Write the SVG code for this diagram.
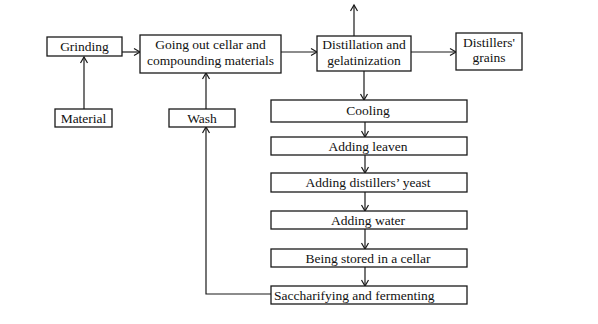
<svg xmlns="http://www.w3.org/2000/svg" width="598" height="324" viewBox="0 0 598 324">
<style>
.b{fill:#fff;stroke:#1a1a1a;stroke-width:1.3}
.t{font-family:"Liberation Serif","DejaVu Serif",serif;font-size:13.5px;fill:#111;text-anchor:middle}
.l{fill:none;stroke:#1a1a1a;stroke-width:1.2}
</style>
<defs>
<marker id="a" markerWidth="10" markerHeight="10" refX="8" refY="5" orient="auto" markerUnits="userSpaceOnUse">
<polyline points="2,1.5 8,5 2,8.5" fill="none" stroke="#1a1a1a" stroke-width="1.2"/>
</marker>
</defs>
<rect width="598" height="324" fill="#fff"/>
<g id="connectors">
<line class="l" x1="84" y1="109" x2="84" y2="57" marker-end="url(#a)"/>
<line class="l" x1="122" y1="52" x2="140" y2="52" marker-end="url(#a)"/>
<line class="l" x1="206" y1="109" x2="206" y2="73" marker-end="url(#a)"/>
<line class="l" x1="281" y1="52" x2="317" y2="52" marker-end="url(#a)"/>
<line class="l" x1="354" y1="36" x2="354" y2="5" marker-end="url(#a)"/>
<line class="l" x1="411" y1="52" x2="456" y2="52" marker-end="url(#a)"/>
<line class="l" x1="364" y1="71" x2="364" y2="100" marker-end="url(#a)"/>
<line class="l" x1="365" y1="122" x2="365" y2="137" marker-end="url(#a)"/>
<line class="l" x1="365" y1="155" x2="365" y2="173" marker-end="url(#a)"/>
<line class="l" x1="365" y1="192" x2="365" y2="211" marker-end="url(#a)"/>
<line class="l" x1="365" y1="229" x2="365" y2="249" marker-end="url(#a)"/>
<line class="l" x1="365" y1="267" x2="365" y2="286" marker-end="url(#a)"/>
<polyline class="l" points="271,294 206,294 206,127" marker-end="url(#a)"/>
</g>
<g id="grinding"><rect class="b" x="47" y="37" width="75" height="19"/><text class="t" x="84.5" y="51">Grinding</text></g>
<g id="going-out"><rect class="b" x="140" y="35" width="141" height="38"/><text class="t" x="210.5" y="49">Going out cellar and</text><text class="t" x="210.5" y="65">compounding materials</text></g>
<g id="material"><rect class="b" x="55" y="109" width="57" height="18"/><text class="t" x="83.5" y="122.5">Material</text></g>
<g id="wash"><rect class="b" x="169" y="109" width="66" height="18"/><text class="t" x="202" y="122.5">Wash</text></g>
<g id="distillation"><rect class="b" x="317" y="36" width="94" height="35"/><text class="t" x="364" y="49">Distillation and</text><text class="t" x="364" y="65">gelatinization</text></g>
<g id="grains"><rect class="b" x="456" y="33" width="66" height="37"/><text class="t" x="489" y="47">Distillers'</text><text class="t" x="489" y="62">grains</text></g>
<g id="cooling"><rect class="b" x="271" y="100" width="196" height="22"/><text class="t" x="368" y="115">Cooling</text></g>
<g id="leaven"><rect class="b" x="271" y="137" width="196" height="18"/><text class="t" x="368" y="150.5">Adding leaven</text></g>
<g id="yeast"><rect class="b" x="271" y="173" width="196" height="19"/><text class="t" x="368" y="187">Adding distillers’ yeast</text></g>
<g id="water"><rect class="b" x="271" y="211" width="196" height="18"/><text class="t" x="368" y="224.5">Adding water</text></g>
<g id="stored"><rect class="b" x="271" y="249" width="196" height="18"/><text class="t" x="368" y="262.5">Being stored in a cellar</text></g>
<g id="saccharifying"><rect class="b" x="271" y="286" width="196" height="18"/><text class="t" x="274" y="299.5" style="text-anchor:start">Saccharifying and fermenting</text></g>
</svg>
